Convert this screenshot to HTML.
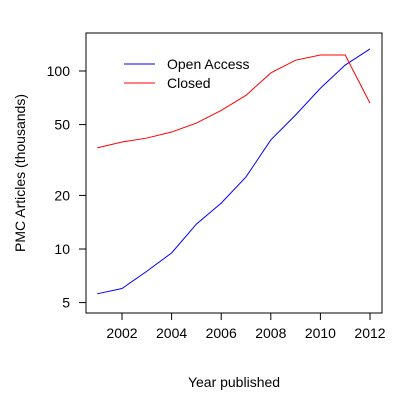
<!DOCTYPE html>
<html><head><meta charset="utf-8"><style>body{margin:0;background:#fff}svg{display:block}text{font-family:"Liberation Sans",sans-serif;font-size:14px;fill:#000}</style></head>
<body>
<svg id="c" width="400" height="400">
<rect x="86" y="33" width="296" height="280" fill="none" stroke="#000"/>
<g id="axes"></g>
<g id="series"></g>
<text x="234" y="387" text-anchor="middle">Year published</text>
<text transform="translate(25,173) rotate(-90)" text-anchor="middle">PMC Articles (thousands)</text>
<g>
<line x1="124" y1="64" x2="155" y2="64" stroke="#00f"/>
<text x="167" y="69">Open Access</text>
<line x1="124" y1="83" x2="155" y2="83" stroke="#f00"/>
<text x="167" y="88">Closed</text>
</g>
</svg>
<script>
const years=[2001,2002,2003,2004,2005,2006,2007,2008,2009,2010,2011,2012];
const openAccess=[5.6,6.0,7.5,9.5,13.8,18.1,25.4,41,56.6,80,108,133];
const closed=[37,39.9,42,45.4,51,60,73,97.5,115,123,123,66];
const xTicks=[2002,2004,2006,2008,2010,2012];
const yTicks=[5,10,20,50,100];
const X=v=>122+(v-2002)*24.8;
const Y=v=>249-178*Math.log10(v/10);
const NS='http://www.w3.org/2000/svg';
const ax=document.getElementById('axes'),se=document.getElementById('series');
function mk(tag,at,p){const e=document.createElementNS(NS,tag);for(const k in at)e.setAttribute(k,at[k]);p.appendChild(e);return e;}
xTicks.forEach(t=>{
 const l=mk('line',{x1:X(t),x2:X(t),y1:313,y2:320,stroke:'#000'},ax);
 
 
 const tx=mk('text',{x:X(t),y:338,'text-anchor':'middle'},ax);tx.textContent=t;
 
 
});
yTicks.forEach(t=>{
 const l=mk('line',{x1:79,x2:86,y1:Y(t),y2:Y(t),stroke:'#000'},ax);
 
 
 const tx=mk('text',{x:70,y:Y(t)+5,'text-anchor':'end'},ax);tx.textContent=t;
 
 
});
const p1=mk('polyline',{points:years.map((y,i)=>X(y)+','+Y(openAccess[i])).join(' '),fill:'none',stroke:'#00f'},se);


const p2=mk('polyline',{points:years.map((y,i)=>X(y)+','+Y(closed[i])).join(' '),fill:'none',stroke:'#f00'},se);


</script>
</body></html>
